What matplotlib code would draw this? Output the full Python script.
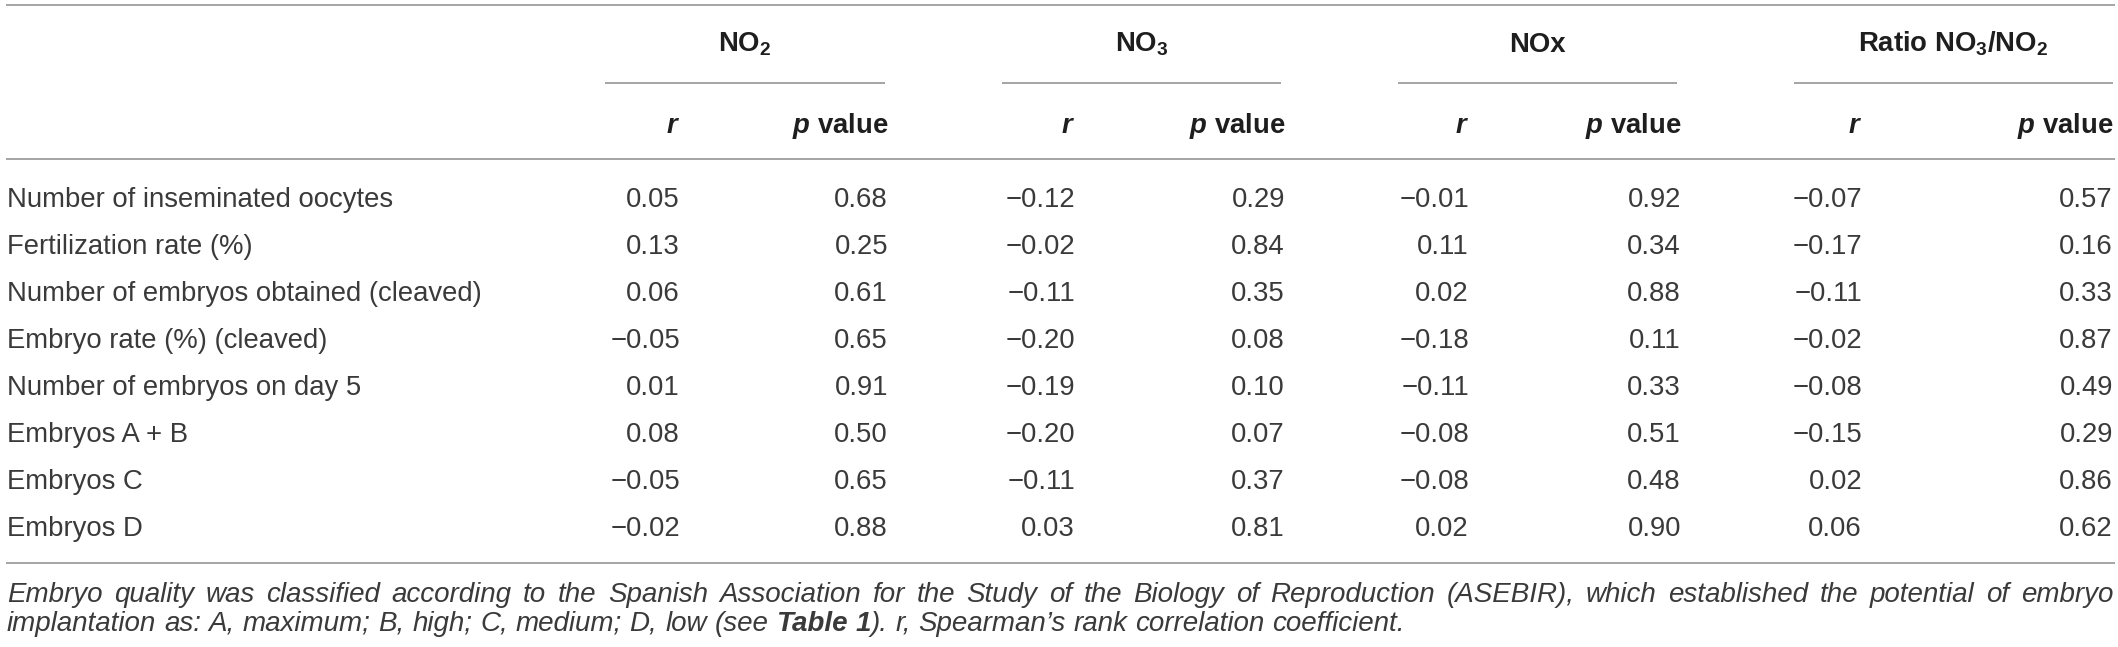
import matplotlib
matplotlib.use("Agg")
import matplotlib.pyplot as plt

# ---------------- data ----------------
row_labels = [
    "Number of inseminated oocytes",
    "Fertilization rate (%)",
    "Number of embryos obtained (cleaved)",
    "Embryo rate (%) (cleaved)",
    "Number of embryos on day 5",
    "Embryos A + B",
    "Embryos C",
    "Embryos D",
]
group_labels = [r"$\mathbf{NO}_\mathbf{2}$", r"$\mathbf{NO}_\mathbf{3}$", "NOx",
                r"Ratio $\mathbf{NO}_\mathbf{3}\mathbf{/NO}_\mathbf{2}$"]
sub_labels = [r"$\mathbfit{r}$", r"$\mathbfit{p}$ value"]

no2_r = [0.05, 0.13, 0.06, -0.05, 0.01, 0.08, -0.05, -0.02]
no2_p = [0.68, 0.25, 0.61, 0.65, 0.91, 0.50, 0.65, 0.88]
no3_r = [-0.12, -0.02, -0.11, -0.20, -0.19, -0.20, -0.11, 0.03]
no3_p = [0.29, 0.84, 0.35, 0.08, 0.10, 0.07, 0.37, 0.81]
nox_r = [-0.01, 0.11, 0.02, -0.18, -0.11, -0.08, -0.08, 0.02]
nox_p = [0.92, 0.34, 0.88, 0.11, 0.33, 0.51, 0.48, 0.90]
ratio_r = [-0.07, -0.17, -0.11, -0.02, -0.08, -0.15, 0.02, 0.06]
ratio_p = [0.57, 0.16, 0.33, 0.87, 0.49, 0.29, 0.86, 0.62]

footnote_1 = ("Embryo quality was classified according to the Spanish Association for the "
              "Study of the Biology of Reproduction (ASEBIR), which established the potential of embryo")
footnote_2 = [("implantation as: A, maximum; B, high; C, medium; D, low (see", "normal"),
              ("Table 1", "bold"),
              ("). r, Spearman\u2019s rank correlation coefficient.", "normal")]

# ---------------- style ----------------
plt.rcParams["font.family"] = ["Liberation Sans", "DejaVu Sans"]
plt.rcParams["mathtext.fontset"] = "custom"
plt.rcParams["mathtext.rm"] = "Liberation Sans"
plt.rcParams["mathtext.bf"] = "Liberation Sans:bold"
plt.rcParams["mathtext.it"] = "Liberation Sans:italic"
plt.rcParams["mathtext.bfit"] = "Liberation Sans:italic:bold"

W, H = 2118, 647
fig = plt.figure(figsize=(W / 100, H / 100), dpi=100)
ax = fig.add_axes([0, 0, 1, 1])
ax.set_xlim(0, W)
ax.set_ylim(H, 0)
ax.axis("off")

FS = 19.8
FS_NOTE = 20.0
TXT = "#3a3a3a"
HDR = "#1e1e1e"
LINE = "#8c8c8c"

def fmt(v):
    s = f"{abs(v):.2f}"
    return ("\u2212" + s) if v < 0 else s

# horizontal rules
x0, x1 = 6, 2115
for y in (5, 159, 563):
    ax.plot([x0, x1], [y, y], color=LINE, lw=1.1, solid_capstyle="butt")

# column geometry (right edges)
col_r = [680, 1075, 1469, 1862]
col_p = [888, 1285, 1681, 2113]
under = [(605, 885), (1002, 1281), (1398, 1677), (1794, 2113)]

for g, (ua, ub) in enumerate(under):
    ax.plot([ua, ub], [83, 83], color=LINE, lw=1.1, solid_capstyle="butt")
    ax.text((ua + ub) / 2, 52, group_labels[g], ha="center", va="baseline",
            fontsize=FS, fontweight="bold", color=HDR)
    ax.text(col_r[g], 133, sub_labels[0], ha="right", va="baseline",
            fontsize=FS, fontweight="bold", color=HDR)
    ax.text(col_p[g], 133, sub_labels[1], ha="right", va="baseline",
            fontsize=FS, fontweight="bold", color=HDR)

series = [(no2_r, no2_p), (no3_r, no3_p), (nox_r, nox_p), (ratio_r, ratio_p)]
base0, step = 206.8, 47.1
for i, lab in enumerate(row_labels):
    yb = base0 + i * step
    ax.text(7, yb, lab, ha="left", va="baseline", fontsize=FS, color=TXT)
    for g, (rv, pv) in enumerate(series):
        ax.text(col_r[g], yb, fmt(rv[i]), ha="right", va="baseline", fontsize=FS, color=TXT)
        ax.text(col_p[g], yb, f"{pv[i]:.2f}", ha="right", va="baseline", fontsize=FS, color=TXT)

# ---------------- footnote ----------------
renderer = fig.canvas.get_renderer()

def width_of(s, weight="normal"):
    t = ax.text(0, 0, s, fontsize=FS_NOTE, style="italic", fontweight=weight)
    w = t.get_window_extent(renderer).width
    t.remove()
    return w

# justified first line
words = footnote_1.split()
widths = [width_of(w) for w in words]
gap = (x1 - 2 - 7 - sum(widths)) / (len(words) - 1)
x = 7
for w, wd in zip(words, widths):
    ax.text(x, 602, w, ha="left", va="baseline", fontsize=FS_NOTE, style="italic", color=TXT)
    x += wd + gap

# second line with natural spacing
space = width_of("a a") - width_of("aa")
x = 7
for k, (seg, weight) in enumerate(footnote_2):
    seg_words = seg.split(" ")
    for j, w in enumerate(seg_words):
        if w == "":
            continue
        ax.text(x, 631, w, ha="left", va="baseline", fontsize=FS_NOTE, style="italic",
                fontweight=weight, color=TXT)
        x += width_of(w, weight)
        if j < len(seg_words) - 1:
            x += space
    if k == 0:
        x += space

fig.savefig("out.png", dpi=100)
